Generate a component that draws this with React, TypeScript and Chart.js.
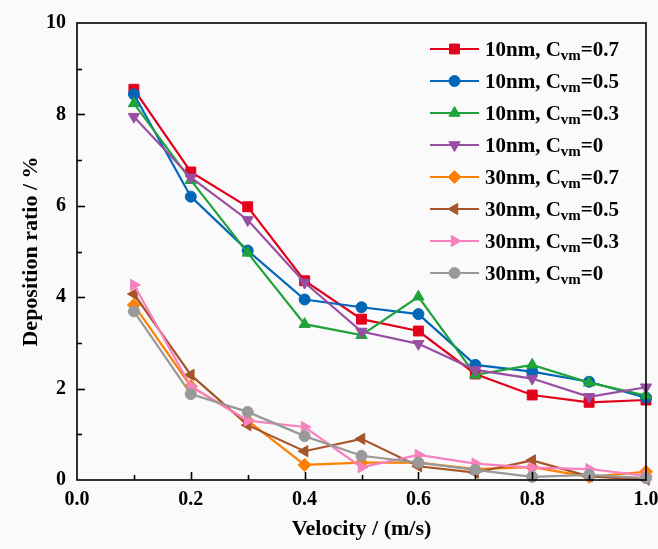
import React, { useEffect, useRef } from "react";
import { Chart, registerables } from "chart.js";
import { drawPoint } from "chart.js/helpers";

Chart.register(...registerables);

const velocities = [0.1, 0.2, 0.3, 0.4, 0.5, 0.6, 0.7, 0.8, 0.9, 1.0];

const s10_07 = [8.55, 6.74, 5.98, 4.36, 3.52, 3.26, 2.32, 1.86, 1.70, 1.75];
const s10_05 = [8.44, 6.20, 5.02, 3.95, 3.78, 3.63, 2.52, 2.37, 2.15, 1.80];
const s10_03 = [8.24, 6.56, 4.97, 3.41, 3.17, 4.01, 2.30, 2.52, 2.13, 1.85];
const s10_00 = [7.95, 6.62, 5.69, 4.32, 3.25, 2.98, 2.41, 2.22, 1.82, 2.03];
const s30_07 = [3.83, 2.05, 1.30, 0.33, 0.38, 0.38, 0.24, 0.28, 0.07, 0.18];
const s30_05 = [4.07, 2.30, 1.20, 0.63, 0.90, 0.30, 0.16, 0.43, 0.08, 0.01];
const s30_03 = [4.27, 2.05, 1.30, 1.16, 0.28, 0.55, 0.36, 0.27, 0.24, 0.09];
const s30_00 = [3.69, 1.88, 1.49, 0.96, 0.53, 0.38, 0.22, 0.07, 0.11, 0.04];

const sizes = ["10nm", "10nm", "10nm", "10nm", "30nm", "30nm", "30nm", "30nm"];
const cvmValues = ["0.7", "0.5", "0.3", "0", "0.7", "0.5", "0.3", "0"];
const seriesValues = [s10_07, s10_05, s10_03, s10_00, s30_07, s30_05, s30_03, s30_00];
const colors = ["#E3001B", "#0066B8", "#1FA23A", "#984EA3", "#FF7F00", "#A65628", "#F781BF", "#999999"];
const pointStyles = ["rect", "circle", "triangle", "triangle", "rectRot", "triangle", "triangle", "circle"];
const rotations = [0, 0, 0, 180, 0, -90, 90, 0];
const radii = [7, 5.5, 6.5, 6.5, 6.5, 6.5, 6.5, 5.5];

const xTicks = [0, 0.2, 0.4, 0.6, 0.8, 1.0];
const yTicks = [0, 2, 4, 6, 8, 10];

const FONT = "'Liberation Serif', 'Times New Roman', serif";

const framePlugin = {
  id: "frame",
  afterDatasetsDraw(chart: any) {
    const { ctx, chartArea } = chart;
    const { left, right, top, bottom } = chartArea;
    const xs = chart.scales.x;
    const ys = chart.scales.y;
    ctx.save();
    ctx.strokeStyle = "#000";
    ctx.lineWidth = 1.6;
    ctx.strokeRect(left, top, right - left, bottom - top);
    for (let i = 1; i < 10; i++) {
      const v = i / 10;
      const px = Math.round(xs.getPixelForValue(v)) + 0.5;
      const len = i % 2 === 0 ? 8 : 5;
      ctx.beginPath();
      ctx.moveTo(px, bottom);
      ctx.lineTo(px, bottom - len);
      ctx.stroke();
    }
    for (let i = 1; i < 10; i++) {
      const py = Math.round(ys.getPixelForValue(i)) + 0.5;
      const len = i % 2 === 0 ? 8 : 5;
      ctx.beginPath();
      ctx.moveTo(left, py);
      ctx.lineTo(left + len, py);
      ctx.stroke();
    }

    // legend
    const lx0 = 430;
    const lx1 = 479;
    const tx = 485;
    let y = 49;
    const rowH = 32;
    for (let i = 0; i < seriesValues.length; i++) {
      ctx.strokeStyle = colors[i];
      ctx.fillStyle = colors[i];
      ctx.lineWidth = 2.2;
      ctx.beginPath();
      ctx.moveTo(lx0, y);
      ctx.lineTo(lx1, y);
      ctx.stroke();
      ctx.lineWidth = 1;
      drawPoint(ctx, { pointStyle: pointStyles[i], rotation: rotations[i], radius: radii[i], borderWidth: 1 }, (lx0 + lx1) / 2, y);
      ctx.fillStyle = "#000";
      ctx.textBaseline = "alphabetic";
      ctx.textAlign = "left";
      const base = y + 7;
      ctx.font = `bold 21px ${FONT}`;
      const part1 = `${sizes[i]}, C`;
      ctx.fillText(part1, tx, base);
      let w = ctx.measureText(part1).width;
      ctx.font = `bold 15px ${FONT}`;
      ctx.fillText("vm", tx + w, base + 4);
      w += ctx.measureText("vm").width;
      ctx.font = `bold 21px ${FONT}`;
      ctx.fillText(`=${cvmValues[i]}`, tx + w, base);
      y += rowH;
    }
    ctx.restore();
  },
};

export default function App() {
  const ref = useRef<HTMLCanvasElement>(null);
  useEffect(() => {
    if (!ref.current) return;
    const datasets = seriesValues.map((vals, i) => ({
      label: `${sizes[i]}, Cvm=${cvmValues[i]}`,
      data: vals.map((v, k) => ({ x: velocities[k], y: v })),
      borderColor: colors[i],
      backgroundColor: colors[i],
      borderWidth: 2.2,
      pointStyle: pointStyles[i],
      rotation: rotations[i],
      pointRadius: radii[i],
      pointBorderWidth: 1,
      pointBackgroundColor: colors[i],
      pointBorderColor: colors[i],
      tension: 0,
      order: seriesValues.length - i,
      clip: false as any,
    }));
    const chart = new Chart(ref.current, {
      type: "line",
      data: { datasets },
      plugins: [framePlugin],
      options: {
        animation: false,
        responsive: false,
        devicePixelRatio: 1,
        layout: { padding: { left: 0, right: 12, top: 23, bottom: 0 } },
        plugins: { legend: { display: false }, tooltip: { enabled: false } },
        scales: {
          x: {
            type: "linear",
            min: 0,
            max: 1,
            afterBuildTicks: (scale: any) => {
              scale.ticks = xTicks.map((v) => ({ value: v }));
            },
            afterFit: (scale: any) => {
              scale.height = 69;
              scale.paddingLeft = 0;
              scale.paddingRight = 0;
            },
            grid: { display: false, drawTicks: false },
            border: { display: false },
            ticks: {
              color: "#000",
              padding: 8,
              maxRotation: 0,
              font: { family: FONT, size: 20, weight: "bold" },
              callback: (v: any) => Number(v).toFixed(1),
            },
            title: {
              display: true,
              text: "Velocity / (m/s)",
              color: "#000",
              font: { family: FONT, size: 22, weight: "bold" },
              padding: { top: 0, bottom: 6 },
            },
          },
          y: {
            type: "linear",
            min: 0,
            max: 10,
            afterBuildTicks: (scale: any) => {
              scale.ticks = yTicks.map((v) => ({ value: v }));
            },
            afterFit: (scale: any) => {
              scale.width = 77;
              scale.paddingTop = 0;
              scale.paddingBottom = 0;
            },
            grid: { display: false, drawTicks: false },
            border: { display: false },
            ticks: {
              color: "#000",
              padding: 11,
              font: { family: FONT, size: 20, weight: "bold" },
              callback: (v: any) => String(v),
            },
            title: {
              display: true,
              text: "Deposition ratio / %",
              color: "#000",
              font: { family: FONT, size: 22, weight: "bold" },
              padding: { top: 18, bottom: 0 },
            },
          },
        },
      },
    });
    return () => chart.destroy();
  }, []);
  return (
    <div style={{ position: "fixed", left: 0, top: 0, width: 658, height: 549, background: "#fafafa" }}>
      <canvas ref={ref} width={658} height={549} style={{ display: "block", width: 658, height: 549 }} />
    </div>
  );
}
